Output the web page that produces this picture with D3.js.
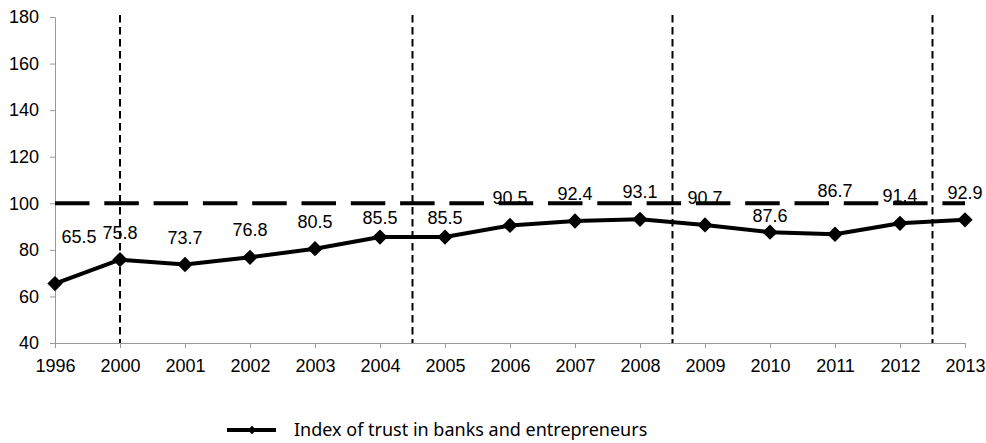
<!DOCTYPE html>
<html>
<head>
<meta charset="utf-8">
<script src="https://cdn.jsdelivr.net/npm/d3@7"></script>
<style>
  body { margin: 0; background: #fff; }
  svg { display: block; }
</style>
</head>
<body>
<div id="chart-area"></div>
<script>
// data
var years = ["1996","2000","2001","2002","2003","2004","2005","2006","2007","2008","2009","2010","2011","2012","2013"];
var trust = [65.5, 75.8, 73.7, 76.8, 80.5, 85.5, 85.5, 90.5, 92.4, 93.1, 90.7, 87.6, 86.7, 91.4, 92.9];
var yTicks = [40, 60, 80, 100, 120, 140, 160, 180];
var refValue = 100;
// period dividers: [left category, right category]
var dividers = [["2000","2000"], ["2004","2005"], ["2008","2009"], ["2012","2013"]];
var seriesName = "Index of trust in banks and entrepreneurs";

var width = 986, height = 443;
var margin = {top: 17, right: 21, bottom: 100, left: 55};

var svg = d3.select("#chart-area")
    .append("svg")
    .attr("width", width)
    .attr("height", height);

var x = d3.scalePoint()
    .domain(years)
    .range([margin.left, width - margin.right])
    .padding(0);

var y = d3.scaleLinear()
    .domain([40, 180])
    .range([height - margin.bottom, margin.top]);

var numFont = "'Liberation Sans', Arial, sans-serif";

// y axis
var yAxis = d3.axisLeft(y).tickValues(yTicks).tickSize(5).tickSizeOuter(0).tickPadding(11);
var gy = svg.append("g")
    .attr("transform", "translate(" + margin.left + ",0)")
    .call(yAxis);
gy.select(".domain").attr("stroke", "#999");
gy.selectAll(".tick line").attr("stroke", "#999");
gy.selectAll(".tick text")
  .attr("font-family", numFont).attr("font-size", "18px").attr("fill", "#000");

// x axis
var xAxis = d3.axisBottom(x).tickSize(5).tickSizeOuter(0).tickPadding(11);
var gx = svg.append("g")
    .attr("transform", "translate(0," + y(40) + ")")
    .call(xAxis);
gx.select(".domain").attr("stroke", "#999");
gx.selectAll(".tick line").attr("stroke", "#999");
gx.selectAll(".tick text")
  .attr("font-family", numFont).attr("font-size", "18px").attr("fill", "#000");

// vertical dividers
svg.selectAll(".divider")
  .data(dividers)
  .enter().append("line")
  .attr("class", "divider")
  .attr("x1", function(d){ return (x(d[0]) + x(d[1])) / 2; })
  .attr("x2", function(d){ return (x(d[0]) + x(d[1])) / 2; })
  .attr("y1", y(180) - 2)
  .attr("y2", y(40))
  .attr("stroke", "#000")
  .attr("stroke-width", 2)
  .attr("stroke-dasharray", "7.5,4.5");

// reference line at 100
svg.append("line")
  .attr("x1", x(years[0]))
  .attr("x2", x(years[years.length - 1]))
  .attr("y1", y(refValue))
  .attr("y2", y(refValue))
  .attr("stroke", "#000")
  .attr("stroke-width", 4)
  .attr("stroke-dasharray", "34.5,14.8");

// main series
var line = d3.line()
  .x(function(d, i){ return x(years[i]); })
  .y(function(d){ return y(d); });

svg.append("path")
  .datum(trust)
  .attr("d", line)
  .attr("fill", "none")
  .attr("stroke", "#000")
  .attr("stroke-width", 4)
  .attr("stroke-linejoin", "round");

var diamond = d3.symbol().type(d3.symbolDiamond2).size(150);

svg.selectAll(".marker")
  .data(trust)
  .enter().append("path")
  .attr("class", "marker")
  .attr("d", diamond)
  .attr("transform", function(d, i){ return "translate(" + x(years[i]) + "," + y(d) + ")"; })
  .attr("fill", "#000");

// data labels (some were nudged by hand in the original)
var nudge = {"1996": [24, -41], "2004": [0, -13], "2005": [0, -13], "2010": [0, -10], "2011": [0, -37]};

svg.selectAll(".label")
  .data(trust)
  .enter().append("text")
  .attr("class", "label")
  .attr("x", function(d, i){ var n = nudge[years[i]]; return x(years[i]) + (n ? n[0] : 0); })
  .attr("y", function(d, i){ var n = nudge[years[i]]; return y(d) + (n ? n[1] : -21); })
  .attr("text-anchor", "middle")
  .attr("font-family", numFont)
  .attr("font-size", "18px")
  .text(function(d){ return d.toFixed(1); });

// legend
var lg = svg.append("g").attr("transform", "translate(227,430)");
lg.append("line")
  .attr("x1", 0).attr("x2", 49)
  .attr("stroke", "#000").attr("stroke-width", 4);
lg.append("path")
  .attr("d", d3.symbol().type(d3.symbolDiamond2).size(45))
  .attr("transform", "translate(25,0)")
  .attr("fill", "#000");
lg.append("text")
  .attr("x", 67)
  .attr("dy", "0.35em")
  .attr("font-family", "'Noto Sans', 'Open Sans', sans-serif")
  .attr("font-size", "18px")
  .text(seriesName);
</script>
</body>
</html>
